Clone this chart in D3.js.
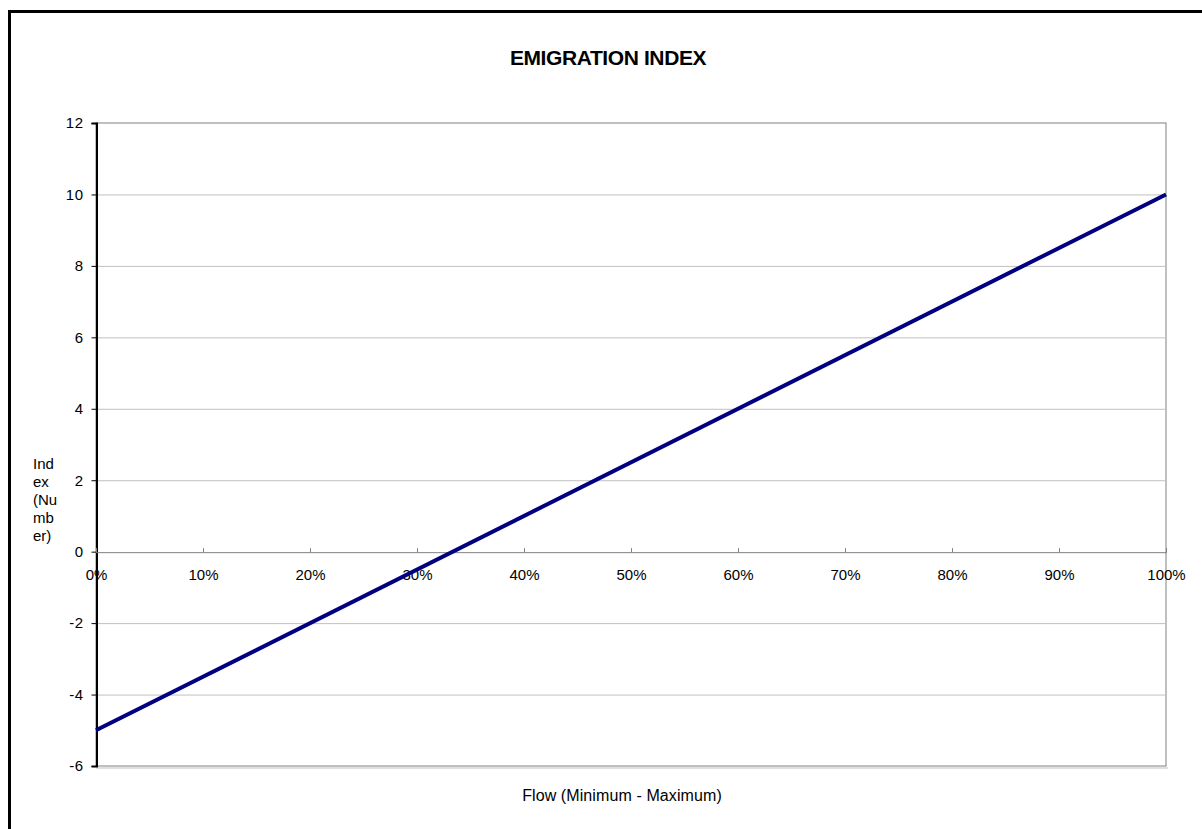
<!DOCTYPE html>
<html><head><meta charset="utf-8">
<script src="https://cdn.jsdelivr.net/npm/d3@7"></script>
<style>body{margin:0;background:#fff}svg{display:block;font-family:Arial,"Liberation Sans",sans-serif}</style>
</head><body>
<svg id="c" width="1202" height="829"></svg>
<script>
const flow = [0, 1];            // Flow, fraction of min-max
const indexValues = [-5, 10];   // Emigration index
const yTicks = [-6, -4, -2, 0, 2, 4, 6, 8, 10, 12];
const xTicks = [0, 0.1, 0.2, 0.3, 0.4, 0.5, 0.6, 0.7, 0.8, 0.9, 1];
const yTitleLines = ["Ind", "ex", "(Nu", "mb", "er)"];

const svg = d3.select("#c");
const L = 96, R = 1166, T = 123, B = 766;
const x = d3.scaleLinear().domain([0, 1]).range([L, R]);
const y = d3.scaleLinear().domain([-6, 12]).range([B, T]);
const FONT = "Arial, 'Liberation Sans', sans-serif";

// outer frame
svg.append("rect").attr("x", 9.5).attr("y", 11.5).attr("width", 1300).attr("height", 1000)
  .attr("fill", "none").attr("stroke", "#000").attr("stroke-width", 3);

// title
svg.append("text").attr("x", 608).attr("y", 65).attr("text-anchor", "middle")
  .attr("font-size", 21).attr("font-weight", "bold").attr("letter-spacing", -0.4).text("EMIGRATION INDEX");

// plot shadow and border
svg.append("line").attr("x1", L).attr("x2", R + 2).attr("y1", B + 2).attr("y2", B + 2).attr("stroke", "#e0e0e0").attr("stroke-width", 2);
svg.append("rect").attr("x", L).attr("y", T).attr("width", R - L).attr("height", B - T)
  .attr("fill", "#fff").attr("stroke", "#808080").attr("stroke-width", 1);

// grid lines
svg.append("g").selectAll("line").data(yTicks.filter(d => d !== 0 && d !== -6 && d !== 12)).join("line")
  .attr("x1", L).attr("x2", R).attr("y1", d => y(d) + 0.5).attr("y2", d => y(d) + 0.5)
  .attr("stroke", "#c0c0c0").attr("stroke-width", 1);

// y axis
const yAxis = d3.axisLeft(y).tickValues(yTicks).tickSize(5).tickPadding(8).tickFormat(d => String(d));
const gy = svg.append("g").attr("transform", `translate(${L + 0.5},0)`).call(yAxis)
  .attr("font-size", 15).attr("font-family", FONT);
gy.select(".domain").attr("stroke", "#000").attr("stroke-width", 2);
gy.selectAll(".tick line").attr("stroke", "#000");
gy.selectAll("text").attr("fill", "#000").attr("letter-spacing", 0.5);

// x axis at zero
const xAxis = d3.axisBottom(x).tickValues(xTicks).tickSize(-4).tickPadding(17).tickFormat(d => Math.round(d * 100) + "%");
const gx = svg.append("g").attr("transform", `translate(0,${y(0) + 0.5})`).call(xAxis)
  .attr("font-size", 15).attr("font-family", FONT);
gx.select(".domain").attr("stroke", "#808080");
gx.selectAll(".tick line").attr("stroke", "#808080");
gx.selectAll("text").attr("fill", "#000");

// line series
svg.append("path").datum(flow.map((f, i) => [f, indexValues[i]]))
  .attr("d", d3.line().x(d => x(d[0])).y(d => y(d[1])))
  .attr("fill", "none").attr("stroke", "#000080").attr("stroke-width", 4);

// axis titles
svg.append("text").attr("x", 622).attr("y", 801).attr("text-anchor", "middle").attr("font-size", 16).attr("letter-spacing", 0.1).text("Flow (Minimum - Maximum)");
svg.append("g").selectAll("text").data(yTitleLines).join("text")
  .attr("x", 33).attr("y", (d, i) => 469 + i * 18).attr("font-size", 15).text(d => d);
</script>
</body></html>
